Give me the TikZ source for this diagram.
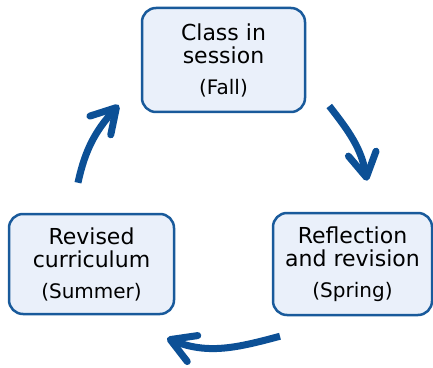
\documentclass[tikz,border=0pt]{standalone}
\usepackage{fontspec}
\setmainfont{DejaVu Sans}
\usetikzlibrary{arrows.meta}

\definecolor{boxline}{RGB}{25,90,155}
\definecolor{boxfill}{RGB}{234,240,250}
\definecolor{cyclearrow}{RGB}{12,80,150}
\newcommand{\seasonlabel}[1]{{\fontsize{20}{23}\selectfont #1}}

\begin{document}
\begin{tikzpicture}[x=1pt, y=1pt,
    stage/.style={draw=boxline, fill=boxfill, line width=2.5pt, rounded corners=14pt,
      align=center, inner sep=0pt, font=\fontsize{22}{23.5}\selectfont},
    cyclestep/.style={draw=cyclearrow, line width=7pt,
      -{Straight Barb[length=24pt, width=28pt, round]}}]
    \useasboundingbox (0, 0) rectangle (433, 367);
    \node[stage, minimum width=163pt, minimum height=104pt] (fall) at (223.5, 307)
      {Class in\\session\\[7pt]\seasonlabel{(Fall)}};
    \node[stage, minimum width=159pt, minimum height=102pt] (spring) at (352.5, 103)
      {Reflection\\and revision\\[7pt]\seasonlabel{(Spring)}};
    \node[stage, minimum width=165pt, minimum height=100pt] (summer) at (91.5, 103)
      {Revised\\curriculum\\[7pt]\seasonlabel{(Summer)}};
    % arrow ends, just off the boxes
    \coordinate (fallout) at ([shift={(23, -46)}]fall.east);
    \coordinate (springin) at ([shift={(14.5, 31)}]spring.north);
    \coordinate (springout) at ([shift={(-72.5, -20)}]spring.south);
    \coordinate (summerin) at ([shift={(75.5, -23)}]summer.south);
    \coordinate (summerout) at ([shift={(-13.5, 30)}]summer.north);
    \coordinate (fallin) at ([shift={(-22, -45)}]fall.west);
    \draw[cyclestep] (fallout) to[out=-52, in=100] (springin);
    \draw[cyclestep] (springout) to[out=195, in=-22] (summerin);
    \draw[cyclestep] (summerout) to[out=78, in=228] (fallin);
\end{tikzpicture}
\end{document}
